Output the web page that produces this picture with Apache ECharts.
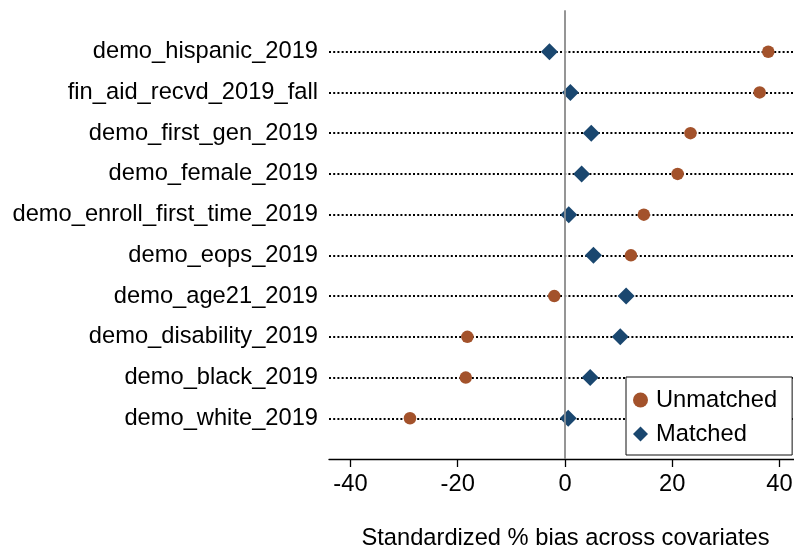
<!DOCTYPE html>
<html>
<head>
<meta charset="utf-8">
<script src="https://cdn.jsdelivr.net/npm/echarts@6/dist/echarts.min.js"></script>
<style>
  html, body { margin: 0; padding: 0; background: #fff; }
  #chart { width: 794px; height: 552px; }
</style>
</head>
<body>
<div id="chart"></div>
<script>
// Covariates, listed top to bottom
const covariates = [
  'demo_hispanic_2019',
  'fin_aid_recvd_2019_fall',
  'demo_first_gen_2019',
  'demo_female_2019',
  'demo_enroll_first_time_2019',
  'demo_eops_2019',
  'demo_age21_2019',
  'demo_disability_2019',
  'demo_black_2019',
  'demo_white_2019'
];
// Standardized % bias before matching
const unmatchedBias = [37.9, 36.3, 23.4, 21.0, 14.7, 12.3, -2.0, -18.2, -18.5, -28.9];
// Standardized % bias after matching
const matchedBias = [-2.9, 1.0, 4.9, 3.1, 0.7, 5.3, 11.4, 10.3, 4.7, 0.6];
// Tick labels on the bias axis
const biasTicks = [-40, -20, 0, 20, 40];

const FONT = 'Liberation Sans, Arial, Helvetica, sans-serif';
const FS = 23.7;

// Blank rows above and below keep half a row of padding at each end
const rows = [''].concat(covariates, ['']);

const chart = echarts.init(document.getElementById('chart'), null, { renderer: 'canvas' });

chart.setOption({
  animation: false,
  backgroundColor: '#ffffff',
  textStyle: { fontFamily: FONT },
  grid: { left: 329, right: 0, top: 11, bottom: 93, containLabel: false, outerBoundsMode: 'none' },
  xAxis: {
    type: 'value',
    min: -44,
    max: 42.7,
    name: 'Standardized % bias across covariates',
    nameLocation: 'middle',
    nameGap: 67,
    nameTextStyle: { color: '#000', fontSize: FS, fontFamily: FONT, padding: [0, 0, 0, 8] },
    axisLine: { show: true, lineStyle: { color: '#000', width: 1.3 } },
    axisTick: { show: true, length: 8, customValues: biasTicks, lineStyle: { color: '#000', width: 1.3 } },
    axisLabel: { customValues: biasTicks, color: '#000', fontSize: FS, fontFamily: FONT, margin: 13 },
    splitLine: { show: false }
  },
  yAxis: {
    type: 'category',
    data: rows,
    inverse: true,
    boundaryGap: false,
    axisLine: { show: true, lineStyle: { color: '#444', width: 1.5 } },
    axisTick: { show: false },
    axisLabel: {
      interval: 0,
      color: '#000',
      fontSize: FS,
      fontFamily: FONT,
      margin: 11
    },
    splitLine: {
      show: true,
      interval: function (idx, value) { return value !== ''; },
      lineStyle: { color: '#000', width: 2, type: [2, 2.2] }
    }
  },
  legend: {
    orient: 'vertical',
    left: 626,
    top: 377,
    padding: [11, 15, 9, 7],
    itemWidth: 15,
    itemHeight: 15,
    itemGap: 10,
    borderColor: '#111',
    borderWidth: 1,
    backgroundColor: '#fff',
    textStyle: { color: '#000', fontSize: FS, fontFamily: FONT, lineHeight: 22, padding: [0, 0, 0, 3] },
    data: [
      { name: 'Unmatched', icon: 'circle', itemStyle: { opacity: 1 } },
      { name: 'Matched', icon: 'diamond', itemStyle: { opacity: 1 } }
    ]
  },
  series: [
    {
      name: 'Unmatched',
      type: 'scatter',
      symbol: 'circle',
      symbolSize: 12.5,
      itemStyle: { color: '#a3522b', opacity: 1 },
      data: covariates.map((c, i) => [unmatchedBias[i], c]),
      markLine: {
        silent: true,
        symbol: 'none',
        label: { show: false },
        lineStyle: { color: '#a0a0a0', width: 1.5, type: 'solid' },
        data: [{ xAxis: 0 }]
      },
      z: 3
    },
    {
      name: 'Matched',
      type: 'scatter',
      symbol: 'diamond',
      symbolSize: 17,
      itemStyle: { color: '#1a476f', opacity: 1 },
      data: covariates.map((c, i) => [matchedBias[i], c]),
      z: 4
    }
  ]
});
</script>
</body>
</html>
